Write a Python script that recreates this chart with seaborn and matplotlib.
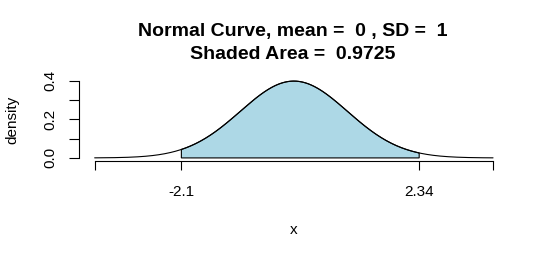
#%% imports
import numpy as np
import pandas as pd
import matplotlib
matplotlib.use("Agg")
import matplotlib.pyplot as plt
import seaborn as sns

#%% settings / data
mean = 0
sd = 1
lower = -2.1
upper = 2.34
shaded_area = 0.9725
x_ticks = [-3.719, -2.1, 2.34, 3.719]
x_tick_labels = ["", "-2.1", "2.34", ""]
y_ticks = [0.0, 0.1, 0.2, 0.3, 0.4]
y_tick_labels = ["0.0", "", "0.2", "", "0.4"]


def dnorm(x):
    return np.exp(-0.5 * ((x - mean) / sd) ** 2) / (sd * np.sqrt(2 * np.pi))


# normal density over the plotted range
df = pd.DataFrame({"x": np.linspace(x_ticks[0], x_ticks[-1], 400)})
df["density"] = dnorm(df["x"])
shade = df[(df["x"] >= lower) & (df["x"] <= upper)]

#%% plot
sns.set_style("ticks")
plt.rcParams["font.family"] = ["Liberation Sans", "DejaVu Sans"]
plt.rcParams["text.color"] = "black"
plt.rcParams["axes.labelcolor"] = "black"

fig = plt.figure(figsize=(5.5, 2.59), dpi=100)
ax = fig.add_axes([78.7 / 550, 98 / 259, (509 - 78.7) / 550, (161 - 78) / 259])

# shaded region with black border
px = np.concatenate([[lower, lower], shade["x"].values, [upper, upper]])
py = np.concatenate([[0, dnorm(lower)], shade["density"].values, [dnorm(upper), 0]])
ax.fill(px, py, facecolor="lightblue", edgecolor="black", linewidth=0.8, closed=True)

sns.lineplot(data=df, x="x", y="density", color="black", linewidth=0.8, ax=ax)

ax.set_xlim(-4.017, 4.017)
ax.set_ylim(-0.016, 0.415)

ax.set_xticks(x_ticks)
ax.set_xticklabels(x_tick_labels)
ax.set_yticks(y_ticks)
ax.set_yticklabels(y_tick_labels, rotation=90, va="center")

for s in ["top", "right"]:
    ax.spines[s].set_visible(False)
ax.spines["bottom"].set_bounds(x_ticks[0], x_ticks[-1])
ax.spines["left"].set_bounds(0, 0.4)
for s in ["bottom", "left"]:
    ax.spines[s].set_linewidth(0.8)
    ax.spines[s].set_color("black")

ax.tick_params(axis="x", length=6.5, width=0.8, pad=10.5, labelsize=11, colors="black")
ax.tick_params(axis="y", length=7, width=0.8, pad=8.5, labelsize=11, colors="black")

ax.set_xlabel("x", fontsize=11, va="center")
ax.xaxis.set_label_coords(0.5, (161 - 230) / 83)
ax.set_ylabel("density", fontsize=11, va="center")
ax.yaxis.set_label_coords((12.5 - 78.7) / 430.3, 0.5)

fig.text(293 / 550, 1 - 35.7 / 259, "Normal Curve, mean =  0 , SD =  1",
         ha="center", va="baseline", fontsize=14, fontweight="bold")
fig.text(293 / 550, 1 - 59 / 259, "Shaded Area =  %.4f" % shaded_area,
         ha="center", va="baseline", fontsize=14, fontweight="bold")

fig.savefig("out.png", dpi=100, facecolor="white")
